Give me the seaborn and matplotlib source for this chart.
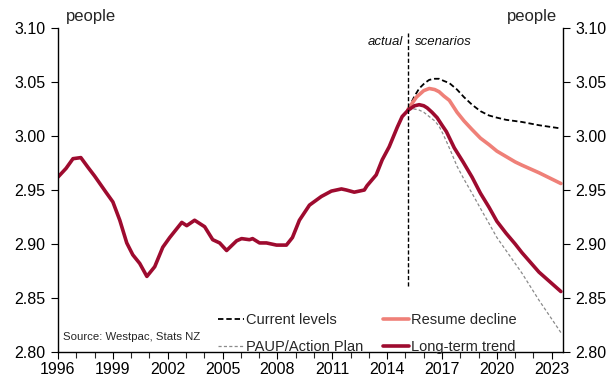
import matplotlib
matplotlib.use("Agg")
import matplotlib.pyplot as plt
import seaborn as sns
import pandas as pd

# Historical average household size (people), 1996 to mid-2015
hist_year = [1996.0, 1996.44, 1996.82, 1997.25, 1997.64, 1998.0, 1998.29, 1998.62,
             1999.0, 1999.38, 1999.76, 2000.09, 2000.47, 2000.86, 2001.29, 2001.73,
             2002.11, 2002.44, 2002.77, 2003.04, 2003.47, 2004.02, 2004.46, 2004.84,
             2005.22, 2005.77, 2006.04, 2006.47, 2006.64, 2007.02, 2007.4, 2007.95,
             2008.49, 2008.82, 2009.2, 2009.75, 2010.4, 2010.95, 2011.5, 2011.77,
             2012.2, 2012.75, 2012.9, 2013.4, 2013.73, 2014.11, 2014.55, 2014.82,
             2015.15]
hist_val = [2.962, 2.970, 2.979, 2.980, 2.971, 2.963, 2.956, 2.948,
            2.939, 2.922, 2.901, 2.890, 2.882, 2.870, 2.879, 2.897,
            2.906, 2.913, 2.920, 2.917, 2.922, 2.916, 2.904, 2.901,
            2.894, 2.903, 2.905, 2.904, 2.905, 2.901, 2.901, 2.899,
            2.899, 2.906, 2.922, 2.936, 2.944, 2.949, 2.951, 2.950,
            2.948, 2.950, 2.954, 2.964, 2.978, 2.990, 3.008, 3.018,
            3.024]

# Scenario projections
cur_year = [2015.15, 2015.5, 2015.75, 2016.05, 2016.3, 2016.6, 2016.84, 2017.1, 2017.4,
            2017.82, 2018.2, 2018.64, 2019.1, 2019.57, 2020.0, 2020.5, 2021.37, 2022.3,
            2023.5]
cur_val = [3.025, 3.037, 3.044, 3.049, 3.052, 3.053, 3.053, 3.051, 3.049,
           3.043, 3.036, 3.029, 3.023, 3.019, 3.017, 3.015, 3.013, 3.010, 3.007]

res_year = [2015.15, 2015.6, 2016.0, 2016.3, 2016.6, 2016.84, 2017.1, 2017.4, 2017.82,
            2018.2, 2018.64, 2019.1, 2019.57, 2020.0, 2020.5, 2021.0, 2021.37, 2022.3,
            2023.5]
res_val = [3.025, 3.036, 3.042, 3.044, 3.043, 3.041, 3.037, 3.033, 3.022,
           3.014, 3.006, 2.998, 2.992, 2.986, 2.981, 2.976, 2.973, 2.966, 2.956]

ltt_year = [2015.15, 2015.5, 2015.75, 2016.0, 2016.19, 2016.45, 2016.73, 2017.0, 2017.24,
            2017.67, 2018.15, 2018.64, 2019.1, 2019.57, 2020.0, 2020.5, 2021.0, 2021.37,
            2022.3, 2023.5]
ltt_val = [3.024, 3.028, 3.029, 3.028, 3.026, 3.022, 3.017, 3.010, 3.004,
           2.989, 2.976, 2.962, 2.947, 2.934, 2.921, 2.910, 2.900, 2.892, 2.874, 2.856]

paup_year = [2015.15, 2015.5, 2015.75, 2016.0, 2016.3, 2016.6, 2016.84, 2017.05, 2017.24,
             2017.5, 2017.82, 2018.2, 2018.64, 2019.1, 2019.57, 2020.0, 2020.5, 2021.37,
             2022.3, 2023.5]
paup_val = [3.024, 3.025, 3.024, 3.022, 3.018, 3.014, 3.009, 3.002, 2.995,
            2.985, 2.972, 2.960, 2.947, 2.933, 2.919, 2.906, 2.894, 2.873, 2.848, 2.818]

x_ticks = [1996, 1999, 2002, 2005, 2008, 2011, 2014, 2017, 2020, 2023]
y_ticks = [2.80, 2.85, 2.90, 2.95, 3.00, 3.05, 3.10]

DARK_RED = "#9E0B2F"
SALMON = "#EF8078"

sns.set_theme(style="white")
plt.rcParams["font.family"] = ["Liberation Sans", "DejaVu Sans"]

fig = plt.figure(figsize=(6.13, 3.79), dpi=100)
ax = fig.add_axes([0.0946, 0.0712, 0.8234, 0.8549])

hist = pd.DataFrame({"year": hist_year, "val": hist_val})
cur = pd.DataFrame({"year": cur_year, "val": cur_val})
res = pd.DataFrame({"year": res_year, "val": res_val})
ltt = pd.DataFrame({"year": ltt_year, "val": ltt_val})
paup = pd.DataFrame({"year": paup_year, "val": paup_val})

sns.lineplot(data=cur, x="year", y="val", ax=ax, color="black", lw=1.3,
             linestyle=(0, (3, 1.6)), label="Current levels")
sns.lineplot(data=paup, x="year", y="val", ax=ax, color="#8a8a8a", lw=0.9,
             linestyle=(0, (2.5, 1.8)), label="PAUP/Action Plan")
sns.lineplot(data=res, x="year", y="val", ax=ax, color=SALMON, lw=2.6,
             label="Resume decline")
sns.lineplot(data=ltt, x="year", y="val", ax=ax, color=DARK_RED, lw=2.6,
             label="Long-term trend")
sns.lineplot(data=hist, x="year", y="val", ax=ax, color=DARK_RED, lw=2.6,
             legend=False)

# actual / scenarios divider
ax.plot([2015.15, 2015.15], [2.861, 3.095], color="black", lw=1.0,
        linestyle=(0, (3, 1.6)))
ax.text(2014.85, 3.087, "actual", ha="right", va="center", fontsize=9.5,
        style="italic", color="#111111")
ax.text(2015.5, 3.087, "scenarios", ha="left", va="center", fontsize=9.5,
        style="italic", color="#111111")

ax.set_xlim(1996, 2023.6)
ax.set_ylim(2.80, 3.10)
ax.set_xticks(x_ticks)
ax.set_xticks(range(1996, 2024), minor=True)
ax.set_yticks(y_ticks)
ax.set_yticklabels([f"{v:.2f}" for v in y_ticks])
ax.set_xlabel("")
ax.set_ylabel("")

for side in ["left", "right", "bottom"]:
    ax.spines[side].set_visible(True)
    ax.spines[side].set_color("black")
    ax.spines[side].set_linewidth(1.0)
ax.spines["top"].set_visible(False)

ax.tick_params(axis="y", which="both", direction="out", length=5, width=0.8,
               left=True, right=True, labelleft=True, labelright=True,
               labelsize=11.5, colors="black", pad=4)
ax.tick_params(axis="x", which="major", direction="out", length=5, width=0.8,
               bottom=True, labelsize=11.5, colors="black", pad=2.5)
ax.tick_params(axis="x", which="minor", direction="out", length=4, width=0.8,
               bottom=True)

fig.text(66 / 613, 1 - 17 / 379, "people", ha="left", va="center", fontsize=12)
fig.text(557 / 613, 1 - 17 / 379, "people", ha="right", va="center", fontsize=12)

ax.text(0.01, 0.03, "Source: Westpac, Stats NZ", transform=ax.transAxes,
        ha="left", va="bottom", fontsize=8.2)

leg = ax.legend(loc="lower left", bbox_to_anchor=(0.317, -0.005), ncol=2,
                frameon=False, fontsize=10.5, handlelength=1.8,
                handletextpad=0.15, columnspacing=1.3, labelspacing=0.85,
                borderaxespad=0.0, borderpad=0.0)

fig.savefig("out.png", dpi=100)
